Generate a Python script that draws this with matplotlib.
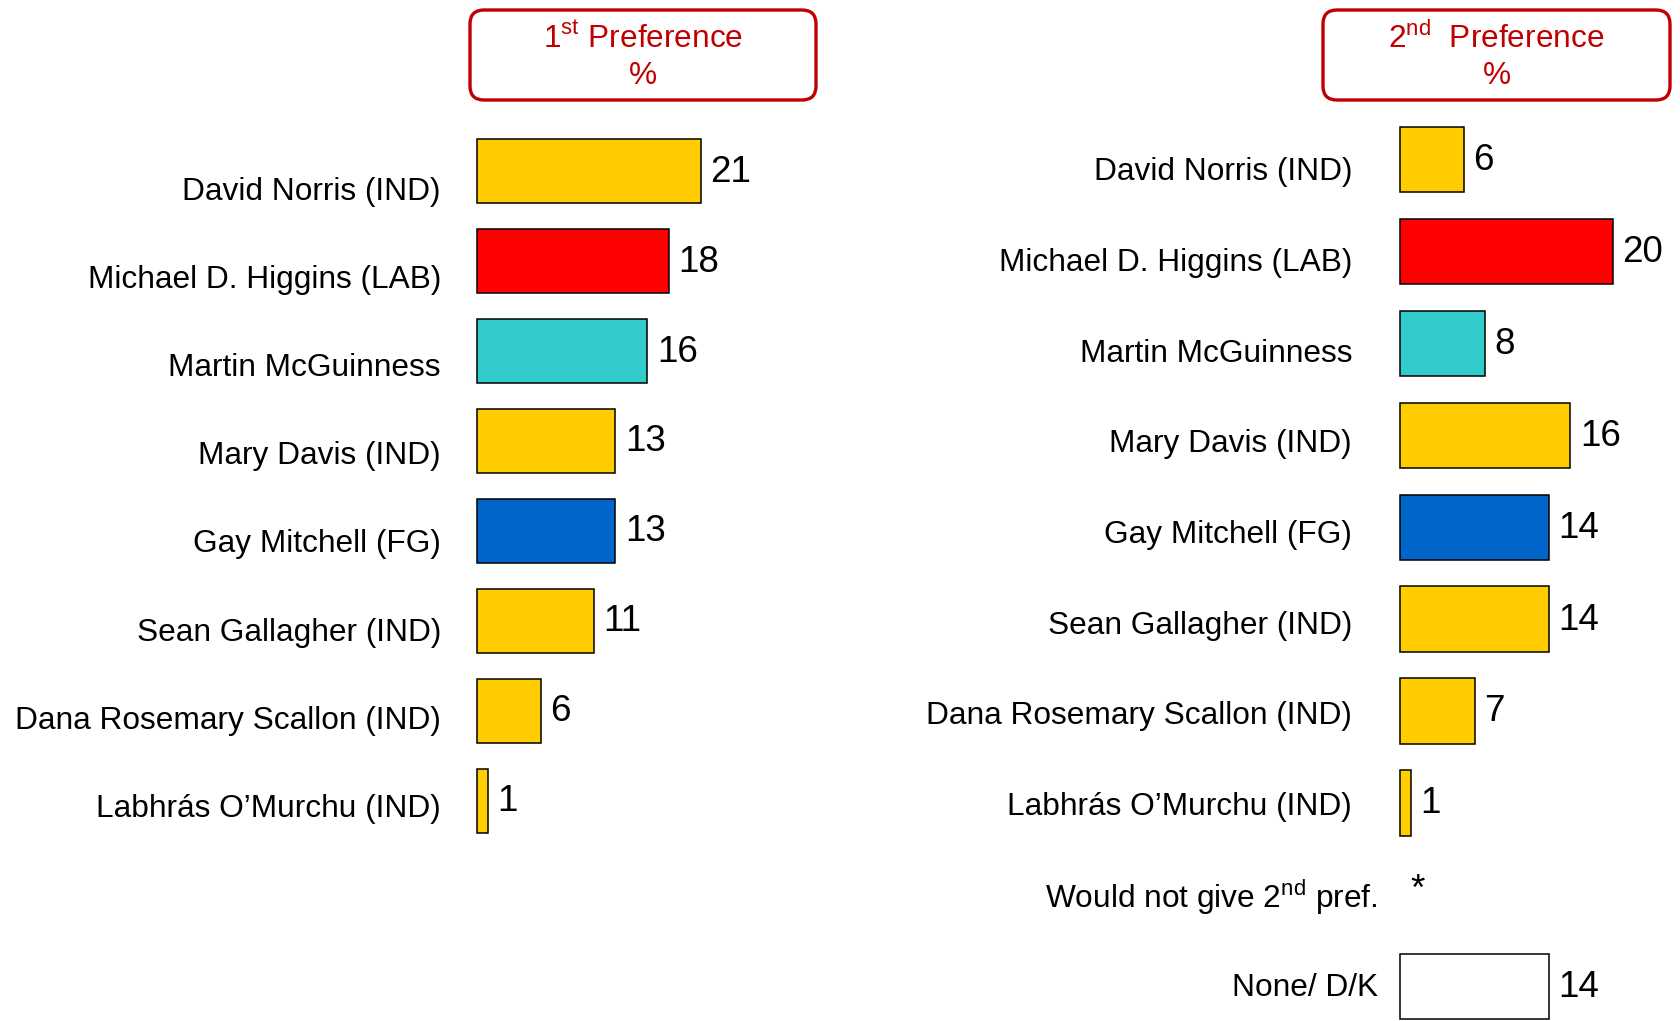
import numpy as np
import matplotlib
matplotlib.use("Agg")
import matplotlib.pyplot as plt
from matplotlib.patches import FancyBboxPatch

plt.rcParams["font.family"] = ["Liberation Sans", "DejaVu Sans"]
plt.rcParams["mathtext.fontset"] = "custom"
plt.rcParams["mathtext.rm"] = "Liberation Sans"

# Data
first_names = ["David Norris (IND)", "Michael D. Higgins (LAB)", "Martin McGuinness",
               "Mary Davis (IND)", "Gay Mitchell (FG)", "Sean Gallagher (IND)",
               "Dana Rosemary Scallon (IND)", "Labhrás O’Murchu (IND)"]
first_vals = [21, 18, 16, 13, 13, 11, 6, 1]
first_colors = ["#FFCC00", "#FF0000", "#33CCCC", "#FFCC00", "#0066CC", "#FFCC00",
                "#FFCC00", "#FFCC00"]

second_names = ["David Norris (IND)", "Michael D. Higgins (LAB)", "Martin McGuinness",
                "Mary Davis (IND)", "Gay Mitchell (FG)", "Sean Gallagher (IND)",
                "Dana Rosemary Scallon (IND)", "Labhrás O’Murchu (IND)",
                r"Would not give 2$^{\mathrm{nd}}$ pref.", "None/ D/K"]
second_vals = [6, 20, 8, 16, 14, 14, 7, 1, None, 14]
second_colors = ["#FFCC00", "#FF0000", "#33CCCC", "#FFCC00", "#0066CC", "#FFCC00",
                 "#FFCC00", "#FFCC00", "white", "white"]

W, H = 1680, 1021
fig = plt.figure(figsize=(W / 100, H / 100), dpi=100)

label_fs = 22.8
value_fs = 26.5
scale = 10.65  # px per percentage point


def panel(x0_px, top_px, row_px, names, vals, colors, label_gap_px, label_dy, label_k,
          extra_gap=None):
    n = len(names)
    width_units = (W - x0_px) / scale if x0_px > 1000 else 30
    top = top_px - row_px / 2
    bottom = top_px + row_px * (n - 0.5)
    ax = fig.add_axes([x0_px / W, 1 - bottom / H, width_units * scale / W,
                       (bottom - top) / H])
    ax.set_xlim(0, width_units)
    ax.set_ylim(n - 0.5, -0.5)
    ax.axis("off")
    y = np.arange(n)
    v = np.array([0 if x is None else x for x in vals], dtype=float)
    for i in range(n):
        if vals[i] is None:
            continue
        ax.barh(y[i], v[i], height=0.71, color=colors[i], edgecolor="black",
                linewidth=1.1, clip_on=False)
        ax.text(v[i] + 0.9, y[i] + 0.01, str(vals[i]), va="center", ha="left",
                fontsize=value_fs, clip_on=False)
    for i in range(n):
        if vals[i] is None:
            ax.text(v[i] + 1.0, y[i] - 0.05, "*", va="center", ha="left",
                    fontsize=value_fs, clip_on=False)
    for i, name in enumerate(names):
        gap = label_gap_px
        if extra_gap is not None and i in extra_gap:
            gap = extra_gap[i]
        ax.text(-gap / scale, label_dy + label_k * i, name, ha="right", va="center",
                fontsize=label_fs, clip_on=False)
    return ax


panel(477, 171.4, 89.9, first_names, first_vals, first_colors, 36, 0.23, 0.98)
panel(1400, 159.6, 91.9, second_names, second_vals, second_colors, 48, 0.14, 0.986,
      extra_gap={8: 22, 9: 22})

# Header boxes drawn in an overlay axes in pixel units
over = fig.add_axes([0, 0, 1, 1], zorder=-1)
over.set_xlim(0, W)
over.set_ylim(H, 0)
over.axis("off")
red = "#C00000"
for (x0, x1), head in [((470, 816), r"1$^{\mathrm{st}}$ Preference"),
                       ((1323, 1670), r"2$^{\mathrm{nd}}$  Preference")]:
    box = FancyBboxPatch((x0, 10), x1 - x0, 90, boxstyle="round,pad=0,rounding_size=14",
                         facecolor="white", edgecolor=red, linewidth=2.4)
    over.add_patch(box)
    cx = (x0 + x1) / 2
    over.text(cx, 39, head, ha="center", va="center", color=red, fontsize=22.8)
    over.text(cx, 76, "%", ha="center", va="center", color=red, fontsize=22.8)

fig.savefig("out.png", dpi=100)
